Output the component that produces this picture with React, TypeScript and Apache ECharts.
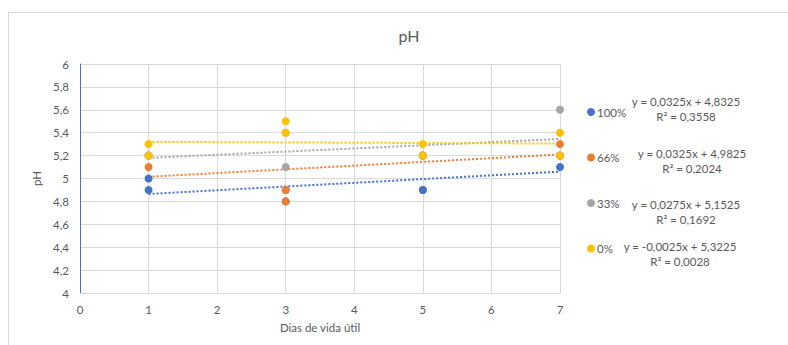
import React, { useEffect, useRef } from "react";
import * as echarts from "echarts";

// Dias de vida útil (x) and pH readings, two replicates per day
const days = [1, 1, 3, 3, 5, 5, 7, 7];
const ph100 = [4.9, 5.0, 4.9, 4.8, 4.9, 4.9, 5.1, 5.2];
const ph66 = [5.1, 5.2, 4.9, 4.8, 5.2, 5.2, 5.3, 5.2];
const ph33 = [5.2, 5.2, 5.1, 5.4, 5.2, 5.2, 5.6, 5.2];
const ph0 = [5.3, 5.2, 5.5, 5.4, 5.3, 5.2, 5.4, 5.2];

const seriesNames = ["100%", "66%", "33%", "0%"];
const seriesValues = [ph100, ph66, ph33, ph0];
const seriesColors = ["#4472C4", "#ED7D31", "#A5A5A5", "#FFC000"];

const xTicks = [0, 1, 2, 3, 4, 5, 6, 7];
const yMin = 4;
const yMax = 6;
const yStep = 0.2;

const FONT = "Lato, 'Open Sans', sans-serif";
const TEXT = "#595959";

function fit(xs: number[], ys: number[]) {
  const n = xs.length;
  const mx = xs.reduce((a, b) => a + b, 0) / n;
  const my = ys.reduce((a, b) => a + b, 0) / n;
  let sxy = 0;
  let sxx = 0;
  let syy = 0;
  for (let i = 0; i < n; i++) {
    sxy += (xs[i] - mx) * (ys[i] - my);
    sxx += (xs[i] - mx) ** 2;
    syy += (ys[i] - my) ** 2;
  }
  const slope = sxy / sxx;
  const intercept = my - slope * mx;
  const r2 = (slope * slope * sxx) / syy;
  return { slope, intercept, r2 };
}

const comma = (v: number, d: number) => v.toFixed(d).replace(".", ",");

function equation(slope: number, intercept: number) {
  const sign = intercept < 0 ? "-" : "+";
  return `y = ${comma(slope, 4)}x ${sign} ${comma(Math.abs(intercept), 4)}`;
}

// equation label anchors (centre x, first line y) beside each legend entry
const eqPos = [
  [686, 101],
  [692, 153],
  [686, 204],
  [680, 246],
];

export default function App() {
  const ref = useRef<HTMLDivElement>(null);

  useEffect(() => {
    if (!ref.current) return;
    const chart = echarts.init(ref.current, undefined, { renderer: "svg" });

    const fits = seriesValues.map((vals) => fit(days, vals));
    const xFirst = Math.min(...days);
    const xLast = Math.max(...days);

    const scatter = seriesNames.map((name, i) => ({
      name,
      type: "scatter",
      data: days.map((d, j) => [d, seriesValues[i][j]]),
      symbol: "circle",
      symbolSize: 8,
      itemStyle: { color: seriesColors[i], opacity: 1 },
      z: 3,
    }));

    const trends = seriesNames.map((name, i) => ({
      name: name + " trend",
      type: "line",
      data: [
        [xFirst, fits[i].intercept + fits[i].slope * xFirst],
        [xLast, fits[i].intercept + fits[i].slope * xLast],
      ],
      symbol: "none",
      lineStyle: { color: seriesColors[i], width: 2, type: [2, 2] },
      silent: true,
      z: 2,
    }));

    const eqTexts: any[] = [];
    fits.forEach((f, i) => {
      const [cx, cy] = eqPos[i];
      eqTexts.push({
        type: "text",
        x: cx,
        y: cy,
        style: {
          text: equation(f.slope, f.intercept),
          fill: TEXT,
          font: `11.5px ${FONT}`,
          align: "center",
          verticalAlign: "middle",
        },
      });
      eqTexts.push({
        type: "text",
        x: cx,
        y: cy + 15,
        style: {
          text: `R² = ${comma(f.r2, 4)}`,
          fill: TEXT,
          font: `11.5px ${FONT}`,
          align: "center",
          verticalAlign: "middle",
        },
      });
    });

    chart.setOption({
      animation: false,
      backgroundColor: "#ffffff",
      textStyle: { fontFamily: FONT },
      title: {
        text: "pH",
        left: 404,
        top: 22,
        textAlign: "center",
        textStyle: { color: TEXT, fontSize: 16, fontWeight: "normal", fontFamily: FONT },
      },
      grid: {
        left: 80,
        right: 228,
        top: 64,
        bottom: 52,
        containLabel: false,
        outerBoundsMode: "none",
      },
      legend: {
        data: seriesNames,
        orient: "vertical",
        left: 582,
        top: 100,
        icon: "circle",
        itemWidth: 8,
        itemHeight: 8,
        itemGap: 31.5,
        textStyle: { color: TEXT, fontSize: 11.5, fontFamily: FONT, lineHeight: 14, padding: [0, 0, 0, -3] },
      },
      xAxis: {
        type: "value",
        min: xTicks[0],
        max: xTicks[xTicks.length - 1],
        interval: 1,
        name: "Dias de vida útil",
        nameLocation: "middle",
        nameGap: 28,
        nameTextStyle: { color: TEXT, fontSize: 11.5, fontFamily: FONT },
        axisLine: { show: true, lineStyle: { color: "#d9d9d9" } },
        axisTick: { show: false },
        axisLabel: { color: TEXT, fontSize: 11.5, margin: 10, fontFamily: FONT },
        splitLine: { show: true, lineStyle: { color: "#d9d9d9", width: 1 } },
      },
      yAxis: {
        type: "value",
        min: yMin,
        max: yMax,
        interval: yStep,
        name: "pH",
        nameLocation: "middle",
        nameGap: 29,
        nameTextStyle: { color: TEXT, fontSize: 11.5, fontFamily: FONT },
        axisLine: { show: true, lineStyle: { color: "#4472C4" } },
        axisTick: { show: false },
        axisLabel: {
          color: TEXT,
          fontSize: 11.5,
          margin: 11,
          fontFamily: FONT,
          formatter: (v: number) => String(parseFloat(v.toFixed(1))).replace(".", ","),
        },
        splitLine: { show: true, lineStyle: { color: "#d9d9d9", width: 1 } },
      },
      graphic: [
        {
          type: "rect",
          shape: { x: 8.5, y: 12.5, width: 800, height: 400 },
          style: { fill: "none", stroke: "#d9d9d9", lineWidth: 1 },
          silent: true,
          z: -10,
        },
        ...eqTexts,
      ],
      series: [...trends, ...scatter],
    });

    return () => chart.dispose();
  }, []);

  return (
    <div
      ref={ref}
      style={{ position: "fixed", left: 0, top: 0, width: 788, height: 345 }}
    />
  );
}
